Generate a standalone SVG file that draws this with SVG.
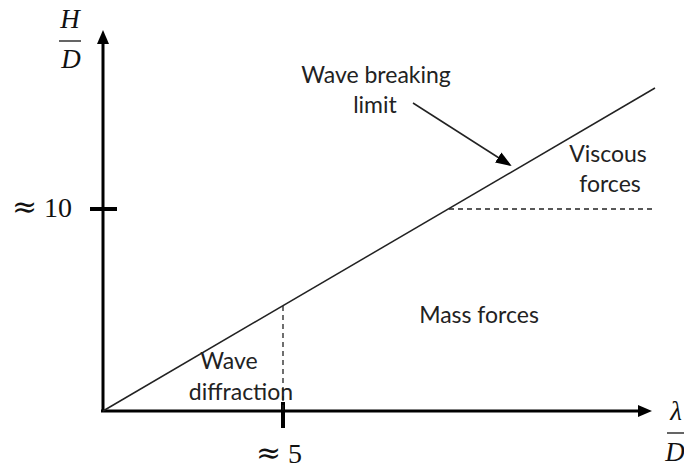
<svg xmlns="http://www.w3.org/2000/svg" width="684" height="470" viewBox="0 0 684 470">
<style>
.lbl{font-family:Lato,"Liberation Sans",sans-serif;font-size:23px;fill:#222;text-anchor:middle}
.math{font-family:"Liberation Serif","DejaVu Serif",serif;font-size:27px;fill:#111}
.num{font-size:28px}
.approx{font-family:"DejaVu Serif",serif;font-size:30px}
.mi{font-style:italic;text-anchor:middle}
.axis{stroke:#000;stroke-width:3;fill:none}
.thin{stroke:#222;stroke-width:1.5;fill:none}
.dash{stroke:#222;stroke-width:1.3;stroke-dasharray:5 4;fill:none}
</style>
<defs>
<marker id="ah2" markerWidth="16" markerHeight="12" refX="14" refY="6" orient="auto" markerUnits="userSpaceOnUse" viewBox="0 0 16 12">
<path d="M0,0 L16,6 L0,12 Z" fill="#000"/>
</marker>
</defs>
<g id="connectors">
<line class="axis" x1="103" y1="412" x2="103" y2="44"/>
<path d="M103,30 L97,44 L109,44 Z" fill="#000"/>
<line class="axis" x1="101" y1="411" x2="638" y2="411"/>
<path d="M652,411 L638,405 L638,417 Z" fill="#000"/>
<line x1="90" y1="209" x2="117" y2="209" stroke="#000" stroke-width="4"/>
<line x1="283" y1="402" x2="283" y2="428" stroke="#000" stroke-width="4"/>
<line class="thin" x1="103" y1="411" x2="655" y2="88"/>
<line class="dash" x1="283" y1="306" x2="283" y2="410"/>
<line class="dash" x1="449" y1="209" x2="653" y2="209"/>
<line class="thin" x1="413" y1="103" x2="510" y2="165" marker-end="url(#ah2)"/>
</g>
<g id="yaxis-label">
<text class="math mi" x="70" y="28">H</text>
<line x1="59" y1="41" x2="81" y2="41" stroke="#111" stroke-width="1.3"/>
<text class="math mi" x="71" y="68">D</text>
</g>
<g id="xaxis-label">
<text class="math mi" x="676" y="420">λ</text>
<line x1="667" y1="433" x2="686" y2="433" stroke="#111" stroke-width="1.3"/>
<text class="math mi" x="675" y="461">D</text>
</g>
<g id="tick10"><text class="math num" x="12" y="217"><tspan class="approx">≈</tspan><tspan x="44">10</tspan></text></g>
<g id="tick5"><text class="math num" x="256" y="463"><tspan class="approx">≈</tspan><tspan x="288">5</tspan></text></g>
<g id="wave-breaking">
<text class="lbl" x="376" y="83">Wave breaking</text>
<text class="lbl" x="375" y="113">limit</text>
</g>
<g id="viscous"><text class="lbl" x="608" y="162">Viscous</text><text class="lbl" x="610" y="192">forces</text></g>
<g id="mass"><text class="lbl" x="479" y="323">Mass forces</text></g>
<g id="diffraction"><text class="lbl" x="229" y="369">Wave</text><text class="lbl" x="241" y="400">diffraction</text></g>
</svg>
